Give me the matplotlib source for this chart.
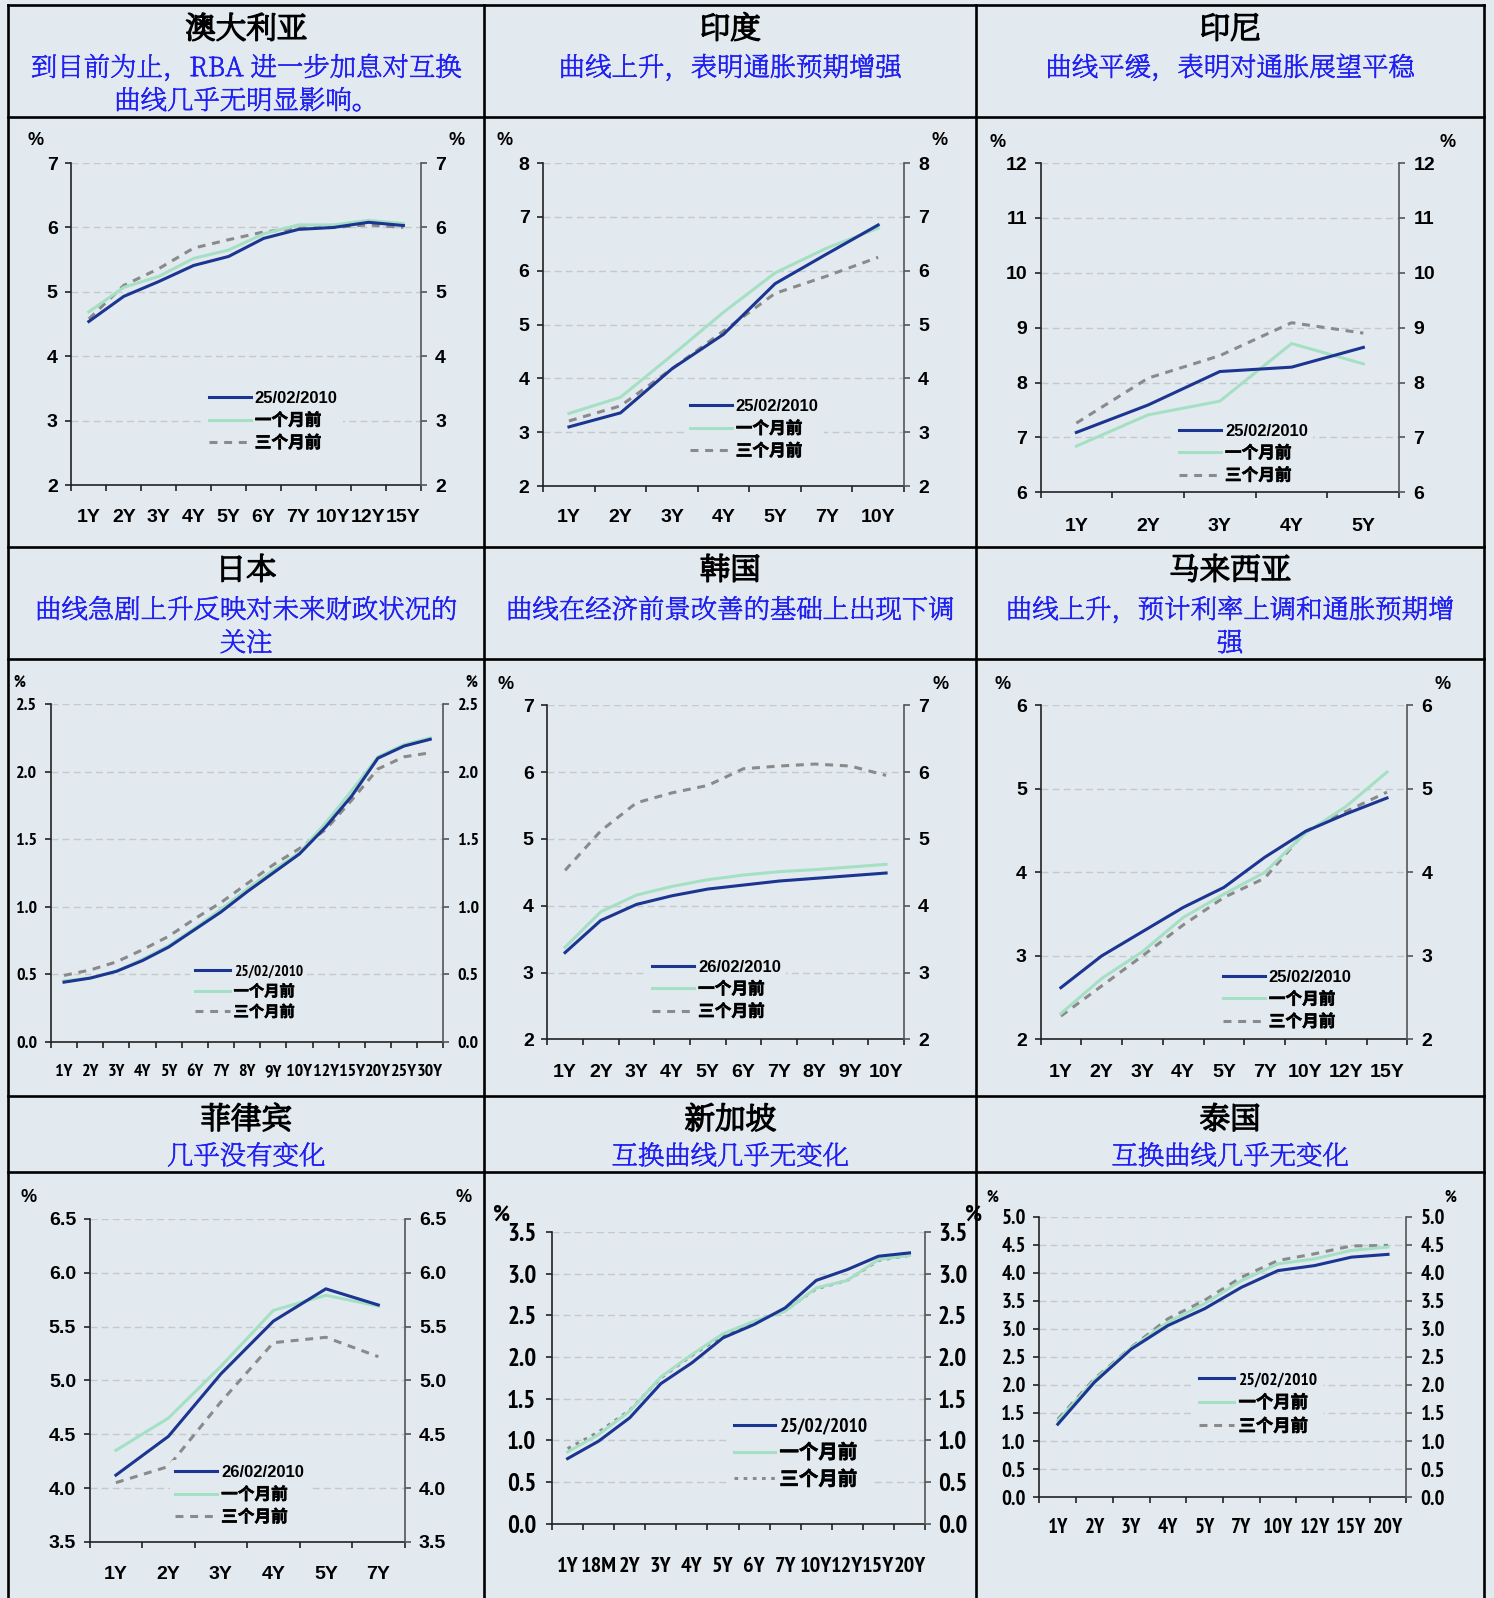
import matplotlib
matplotlib.use('Agg')
import matplotlib.pyplot as plt
import matplotlib.patheffects as pe
from matplotlib.font_manager import FontProperties
from matplotlib.ticker import FormatStrFormatter
from matplotlib.lines import Line2D

# ---------------- data ----------------
legend_1m = '一个月前'
legend_3m = '三个月前'

aus_title = '澳大利亚'
aus_sub = ['到目前为止，RBA 进一步加息对互换', '曲线几乎无明显影响。']
aus_date = '25/02/2010'
aus_cats = ['1Y', '2Y', '3Y', '4Y', '5Y', '6Y', '7Y', '10Y', '12Y', '15Y']
aus_now = [4.54, 4.93, 5.16, 5.41, 5.55, 5.83, 5.97, 6.00, 6.08, 6.03]
aus_1m = [4.69, 5.07, 5.24, 5.52, 5.65, 5.90, 6.04, 6.04, 6.11, 6.06]
aus_3m = [4.58, 5.10, 5.36, 5.68, 5.81, 5.93, 5.99, 6.00, 6.04, 6.00]

ind_title = '印度'
ind_sub = ['曲线上升，表明通胀预期增强']
ind_date = '25/02/2010'
ind_cats = ['1Y', '2Y', '3Y', '4Y', '5Y', '7Y', '10Y']
ind_now = [3.10, 3.36, 4.18, 4.82, 5.76, 6.31, 6.85]
ind_1m = [3.35, 3.65, 4.43, 5.23, 5.96, 6.42, 6.79]
ind_3m = [3.21, 3.49, 4.18, 4.88, 5.58, 5.90, 6.25]

idn_title = '印尼'
idn_sub = ['曲线平缓，表明对通胀展望平稳']
idn_date = '25/02/2010'
idn_cats = ['1Y', '2Y', '3Y', '4Y', '5Y']
idn_now = [7.09, 7.59, 8.20, 8.28, 8.64]
idn_1m = [6.84, 7.41, 7.66, 8.71, 8.34]
idn_3m = [7.26, 8.08, 8.49, 9.09, 8.90]

jpn_title = '日本'
jpn_sub = ['曲线急剧上升反映对未来财政状况的', '关注']
jpn_date = '25/02/2010'
jpn_cats = ['1Y', '2Y', '3Y', '4Y', '5Y', '6Y', '7Y', '8Y', '9Y', '10Y',
            '12Y', '15Y', '20Y', '25Y', '30Y']
jpn_now = [0.44, 0.47, 0.52, 0.60, 0.70, 0.83, 0.96, 1.11, 1.25, 1.39,
           1.59, 1.82, 2.10, 2.19, 2.24]
jpn_1m = [0.45, 0.47, 0.52, 0.61, 0.71, 0.84, 0.98, 1.13, 1.27, 1.40,
          1.62, 1.86, 2.11, 2.20, 2.25]
jpn_3m = [0.49, 0.53, 0.59, 0.68, 0.78, 0.91, 1.03, 1.17, 1.31, 1.43,
          1.57, 1.79, 2.02, 2.11, 2.14]

kor_title = '韩国'
kor_sub = ['曲线在经济前景改善的基础上出现下调']
kor_date = '26/02/2010'
kor_cats = ['1Y', '2Y', '3Y', '4Y', '5Y', '6Y', '7Y', '8Y', '9Y', '10Y']
kor_now = [3.30, 3.78, 4.02, 4.15, 4.25, 4.31, 4.37, 4.41, 4.45, 4.49]
kor_1m = [3.38, 3.91, 4.16, 4.29, 4.39, 4.46, 4.51, 4.54, 4.58, 4.62]
kor_3m = [4.53, 5.12, 5.54, 5.69, 5.80, 6.05, 6.09, 6.12, 6.09, 5.95]

mys_title = '马来西亚'
mys_sub = ['曲线上升，预计利率上调和通胀预期增', '强']
mys_date = '25/02/2010'
mys_cats = ['1Y', '2Y', '3Y', '4Y', '5Y', '7Y', '10Y', '12Y', '15Y']
mys_now = [2.62, 3.00, 3.29, 3.58, 3.82, 4.18, 4.49, 4.70, 4.89]
mys_1m = [2.31, 2.73, 3.05, 3.46, 3.74, 4.00, 4.47, 4.79, 5.20]
mys_3m = [2.28, 2.64, 3.00, 3.37, 3.70, 3.93, 4.49, 4.73, 4.96]

phl_title = '菲律宾'
phl_sub = ['几乎没有变化']
phl_date = '26/02/2010'
phl_cats = ['1Y', '2Y', '3Y', '4Y', '5Y', '7Y']
phl_now = [4.12, 4.48, 5.06, 5.55, 5.85, 5.70]
phl_1m = [4.35, 4.65, 5.13, 5.65, 5.79, 5.69]
phl_3m = [4.05, 4.20, 4.80, 5.35, 5.40, 5.22]

sgp_title = '新加坡'
sgp_sub = ['互换曲线几乎无变化']
sgp_date = '25/02/2010'
sgp_cats = ['1Y', '18M', '2Y', '3Y', '4Y', '5Y', '6Y', '7Y', '10Y', '12Y', '15Y', '20Y']
sgp_now = [0.78, 0.99, 1.27, 1.68, 1.93, 2.23, 2.39, 2.59, 2.92, 3.05, 3.21, 3.25]
sgp_1m = [0.86, 1.07, 1.35, 1.76, 2.03, 2.28, 2.43, 2.55, 2.83, 2.92, 3.17, 3.22]
sgp_3m = [0.90, 1.10, 1.36, 1.75, 2.02, 2.26, 2.42, 2.56, 2.82, 2.92, 3.16, 3.22]

tha_title = '泰国'
tha_sub = ['互换曲线几乎无变化']
tha_date = '25/02/2010'
tha_cats = ['1Y', '2Y', '3Y', '4Y', '5Y', '7Y', '10Y', '12Y', '15Y', '20Y']
tha_now = [1.30, 2.05, 2.64, 3.06, 3.36, 3.74, 4.04, 4.13, 4.28, 4.33]
tha_1m = [1.36, 2.09, 2.66, 3.12, 3.45, 3.86, 4.16, 4.25, 4.40, 4.46]
tha_3m = [1.39, 2.11, 2.67, 3.18, 3.51, 3.92, 4.22, 4.34, 4.48, 4.49]

# ---------------- style ----------------
BG = '#E2EAF0'
NAVY = '#1B3591'
GREEN = '#A6E0C4'
GRAY = '#8A8A8A'
GRID = '#C6C9CC'
BLUE_TXT = '#2020F0'

CJK = ['Noto Sans CJK SC', 'DejaVu Sans']
SERIF_CJK = ['Noto Serif SC', 'Noto Serif CJK SC', 'Noto Sans CJK SC', 'DejaVu Sans']
LAT_B = ['Liberation Sans', 'Noto Sans CJK SC', 'DejaVu Sans']
NAR_B = ['PT Sans Narrow', 'Roboto Condensed', 'Liberation Sans', 'Noto Sans CJK SC', 'DejaVu Sans']

plt.rcParams['font.family'] = CJK

W, H = 1494, 1598
S = W / 1466.0  # measurements below are taken in a 1466-px-wide view


def X(x):
    return x * S / W


def Y(y):
    return 1 - y * S / H


STYLES = {
    'reg': dict(fam=LAT_B, ytick=14, xtick=14, pct=13, leg=12),
    'jp': dict(fam=NAR_B, ytick=13, xtick=13, pct=12, leg=11),
    'sg': dict(fam=NAR_B, ytick=18, xtick=16, pct=17, leg=14),
    'th': dict(fam=NAR_B, ytick=15, xtick=15, pct=12, leg=12.5),
}

COL_CX = [241.5, 716.5, 1207]
ROW_TITLE_Y = [29.5, 560.5, 1099.5]
ROW_SUB_Y = [67.5, 599.5, 1135.5]

panels = [
    dict(t=aus_title, s=aus_sub, d=aus_date, c=aus_cats, a=aus_now, b=aus_1m, e=aus_3m,
         ylim=(2, 7), step=1, fmt='%d', box=(70, 160, 413, 476), st='reg',
         pct=((35, 138), (448, 138)), leg=(205, 389), hl=2.5, xpad=17, col=0, row=0, dash='dash'),
    dict(t=ind_title, s=ind_sub, d=ind_date, c=ind_cats, a=ind_now, b=ind_1m, e=ind_3m,
         ylim=(2, 8), step=1, fmt='%d', box=(533, 160, 887, 477), st='reg',
         pct=((495, 138), (922, 138)), leg=(677, 397), hl=2.5, xpad=16.5, col=1, row=0, dash='dash'),
    dict(t=idn_title, s=idn_sub, d=idn_date, c=idn_cats, a=idn_now, b=idn_1m, e=idn_3m,
         ylim=(6, 12), step=1, fmt='%d', box=(1021, 160, 1373, 483), st='reg',
         pct=((979, 140), (1420, 140)), leg=(1157, 421), hl=2.5, xpad=18.5, col=2, row=0, dash='dash'),
    dict(t=jpn_title, s=jpn_sub, d=jpn_date, c=jpn_cats, a=jpn_now, b=jpn_1m, e=jpn_3m,
         ylim=(0, 2.5), step=0.5, fmt='%.1f', box=(50, 691, 435, 1022), st='jp',
         pct=((19, 670), (462, 670)), leg=(191, 951), hl=2.3, xpad=16, col=0, row=1, dash='dash'),
    dict(t=kor_title, s=kor_sub, d=kor_date, c=kor_cats, a=kor_now, b=kor_1m, e=kor_3m,
         ylim=(2, 7), step=1, fmt='%d', box=(537, 692, 887, 1020), st='reg',
         pct=((496, 672), (923, 672)), leg=(640, 947), hl=2.5, xpad=17.5, col=1, row=1, dash='dash'),
    dict(t=mys_title, s=mys_sub, d=mys_date, c=mys_cats, a=mys_now, b=mys_1m, e=mys_3m,
         ylim=(2, 6), step=1, fmt='%d', box=(1021, 692, 1381, 1020), st='reg',
         pct=((984, 672), (1416, 672)), leg=(1200, 957), hl=2.5, xpad=17.5, col=2, row=1, dash='dash'),
    dict(t=phl_title, s=phl_sub, d=phl_date, c=phl_cats, a=phl_now, b=phl_1m, e=phl_3m,
         ylim=(3.5, 6.5), step=0.5, fmt='%.1f', box=(88, 1196, 397, 1513), st='reg',
         pct=((28, 1175), (455, 1175)), leg=(172, 1443), hl=2.5, xpad=17.5, col=0, row=2, dash='dash'),
    dict(t=sgp_title, s=sgp_sub, d=sgp_date, c=sgp_cats, a=sgp_now, b=sgp_1m, e=sgp_3m,
         ylim=(0, 3.5), step=0.5, fmt='%.1f', box=(541.7, 1209, 907.7, 1495), st='sg',
         pct=((492, 1192), (955, 1192)), leg=(720, 1398), hl=2.1, xpad=24, col=1, row=2, dash='dot'),
    dict(t=tha_title, s=tha_sub, d=tha_date, c=tha_cats, a=tha_now, b=tha_1m, e=tha_3m,
         ylim=(0, 5), step=0.5, fmt='%.1f', box=(1020, 1194, 1380, 1469), st='th',
         pct=((974, 1175), (1423, 1175)), leg=(1177, 1352), hl=2.0, xpad=15, col=2, row=2, dash='dash'),
]

fig = plt.figure(figsize=(W / 100, H / 100), dpi=100)
fig.patch.set_facecolor(BG)

TICKLEN = 4.3  # points

for p in panels:
    st = STYLES[p['st']]
    fam = st['fam']
    l, t, r, b = p['box']
    rect = [X(l), Y(b), X(r) - X(l), Y(t) - Y(b)]
    ax = fig.add_axes(rect)
    ax.set_facecolor('none')
    n = len(p['c'])
    xs = [i + 0.5 for i in range(n)]
    lw = 2.2
    dash = (0, (2.6, 2.2)) if p['dash'] == 'dash' else (0, (1.2, 1.8))
    ax.plot(xs, p['e'], color=GRAY, lw=lw, ls=dash, label=legend_3m, zorder=3)
    ax.plot(xs, p['b'], color=GREEN, lw=lw, label=legend_1m, zorder=4)
    ax.plot(xs, p['a'], color=NAVY, lw=lw, label=p['d'], zorder=5)

    lo, hi = p['ylim']
    nt = int(round((hi - lo) / p['step'])) + 1
    ticks = [lo + i * p['step'] for i in range(nt)]
    ax.set_xlim(0, n)
    ax.set_ylim(lo, hi)
    ax.set_yticks(ticks)
    ax.yaxis.set_major_formatter(FormatStrFormatter(p['fmt']))
    ax.set_xticks(range(n + 1))
    ax.set_xticklabels([])
    ax.set_xticks(xs, minor=True)
    ax.set_xticklabels(p['c'], minor=True)
    tp = FontProperties(family=fam, weight='bold', size=st['xtick'])
    for lab in ax.get_xticklabels(minor=True):
        lab.set_fontproperties(tp)
    yp = FontProperties(family=fam, weight='bold', size=st['ytick'])
    for lab in ax.get_yticklabels():
        lab.set_fontproperties(yp)
    lpad = 7 if p['st'] == 'sg' else 5.5
    rpad = 5 if p['st'] == 'sg' else 6
    ax.tick_params(axis='x', which='minor', length=0, pad=p['xpad'])
    ax.tick_params(axis='x', which='major', length=TICKLEN, width=1.2, color='#222222', direction='out')
    ax.tick_params(axis='y', length=TICKLEN, width=1.2, color='#222222', direction='out', pad=lpad)
    for sp in ('top', 'right'):
        ax.spines[sp].set_visible(False)
    ax.spines['left'].set_color('#222222')
    ax.spines['bottom'].set_color('#222222')
    ax.spines['left'].set_linewidth(1.2)
    ax.spines['bottom'].set_linewidth(1.2)
    ax.yaxis.grid(True, color=GRID, ls=(0, (5, 3)), lw=1.0, zorder=1)
    ax.set_axisbelow(True)

    ax2 = ax.twinx()
    ax2.set_ylim(lo, hi)
    ax2.set_yticks(ticks)
    ax2.yaxis.set_major_formatter(FormatStrFormatter(p['fmt']))
    for lab in ax2.get_yticklabels():
        lab.set_fontproperties(yp)
    ax2.tick_params(axis='y', length=TICKLEN, width=1.2, color='#555555', direction='out', pad=rpad)
    for sp in ('top', 'left', 'bottom'):
        ax2.spines[sp].set_visible(False)
    ax2.spines['right'].set_color('#555555')
    ax2.spines['right'].set_linewidth(1.2)

    # legend
    fs_px = st['leg'] * 100 / 72.0
    bp = 0.3
    hx, ry = p['leg']
    ax_x = hx * S - bp * fs_px
    ax_y = ry * S - 0.62 * fs_px - bp * fs_px + 5
    lp = FontProperties(family=fam, weight='bold', size=st['leg'])
    h, lbl = ax.get_legend_handles_labels()
    order = [2, 1, 0]
    leg = ax.legend([h[i] for i in order], [lbl[i] for i in order], loc='upper left',
                    bbox_to_anchor=(ax_x / W, 1 - ax_y / H), bbox_transform=fig.transFigure,
                    frameon=True, facecolor=BG, edgecolor='none', framealpha=1.0,
                    borderpad=bp, handlelength=p['hl'], handletextpad=0.25,
                    labelspacing=0.4, prop=lp, borderaxespad=0)
    leg.set_zorder(6)
    for txt in leg.get_texts()[1:]:
        txt.set_path_effects([pe.withStroke(linewidth=0.45, foreground='black')])

    # percent signs
    pp = FontProperties(family=fam, weight='bold', size=st['pct'])
    for (px, py) in p['pct']:
        fig.text(X(px), Y(py), '%', fontproperties=pp, ha='center', va='center')

    # header texts
    cx = COL_CX[p['col']]
    fig.text(X(cx), Y(ROW_TITLE_Y[p['row']]), p['t'], ha='center', va='center',
             fontsize=22, family=SERIF_CJK, color='black',
             path_effects=[pe.withStroke(linewidth=1.2, foreground='black')])
    for i, line in enumerate(p['s']):
        fig.text(X(cx), Y(ROW_SUB_Y[p['row']] + i * 32.5), line, ha='center', va='center',
                 fontsize=19, family=SERIF_CJK, color=BLUE_TXT,
                 path_effects=[pe.withStroke(linewidth=0.5, foreground=BLUE_TXT)])

# ---------------- frame lines ----------------
BLW = 1.9
xs_v = [8, 475, 958, 1456]
ys_h = [5, 115, 537, 647, 1075, 1150]
for xv in xs_v:
    fig.add_artist(Line2D([X(xv), X(xv)], [Y(5), 0], color='black', lw=BLW,
                          transform=fig.transFigure))
for yh in ys_h:
    fig.add_artist(Line2D([X(8), X(1456)], [Y(yh), Y(yh)], color='black', lw=BLW,
                          transform=fig.transFigure))

fig.savefig('out.png', dpi=100, facecolor=BG)
